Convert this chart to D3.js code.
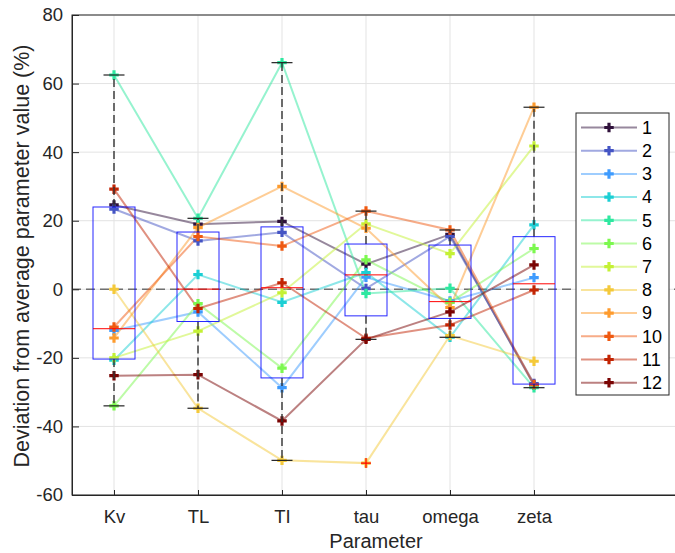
<!DOCTYPE html>
<html>
<head>
<meta charset="utf-8">
<script src="https://cdn.jsdelivr.net/npm/d3@7"></script>
<style>
    body { margin: 0; background: #fff; }
    svg { display: block; font-family: "Liberation Sans", Arial, sans-serif; }
</style>
</head>
<body>
<svg id="chart" width="675" height="553"></svg>
<script>
// parameters on the x axis, one value per run (runs 1..12)
const params = ["Kv", "TL", "TI", "tau", "omega", "zeta"];
const runs = ["1", "2", "3", "4", "5", "6", "7", "8", "9", "10", "11", "12"];

const kv    = [24.6, 23.4, -12.0, -20.7, 62.5, -34.0, -20.0, 0.0, -14.2, -11.0, 29.2, -25.2];
const tl    = [19.0, 14.1, -6.6, 4.3, 20.7, -4.2, -12.2, -34.7, 18.0, 15.4, -5.6, -24.9];
const ti    = [19.8, 16.6, -28.7, -3.8, 66.1, -23.0, -1.0, -49.9, 30.0, 12.6, 1.9, -38.4];
const tau   = [7.3, 0.2, 3.5, 4.9, -1.2, 8.6, 19.1, -50.7, 17.8, 22.8, -14.3, -14.6];
const omega = [16.0, 15.4, -3.4, -14.0, 0.3, -3.8, 10.4, -13.5, -5.3, 17.3, -10.4, -6.6];
const zeta  = [-28.0, -27.5, 3.4, 18.8, -28.7, 11.9, 41.8, -21.0, 53.1, -27.8, -0.2, 7.1];

const yTicks = [-60, -40, -20, 0, 20, 40, 60, 80];

// turbo-like palette, one per run
const runColors = ["#30123b", "#4454c4", "#3e9bfe", "#1bcfd4", "#2ee8a0", "#7cf84f",
    "#c4f134", "#f4c93a", "#fe9b2d", "#ef5911", "#c22403", "#7a0403"];

class DeviationBox {

    constructor(parentElement) {
        this.parentElement = parentElement;
    }

    initVis() {
        let vis = this;

        vis.margin = {top: 15, right: 0, bottom: 58, left: 72};
        vis.width = 608;
        vis.height = 480;

        vis.svg = d3.select("#" + vis.parentElement).append("g")
            .attr("transform", `translate(${vis.margin.left}, ${vis.margin.top})`);

        // Scales and axes
        vis.x = d3.scaleLinear()
            .domain([0.5, 0.5 + vis.width / 84])
            .range([0, vis.width]);
        vis.y = d3.scaleLinear()
            .domain([-60, 80])
            .range([vis.height, 0]);

        vis.xAxis = d3.axisBottom(vis.x)
            .tickValues(d3.range(1, params.length + 1))
            .tickFormat(d => params[d - 1])
            .tickSize(-5)
            .tickPadding(15);
        vis.yAxis = d3.axisLeft(vis.y)
            .tickValues(yTicks)
            .tickFormat(d => String(d))
            .tickSize(-7)
            .tickPadding(9);

        vis.wrangleData();
    }

    // MATLAB style percentile
    prctile(sorted, p) {
        let n = sorted.length;
        let pos = n * p + 0.5;
        if (pos <= 1) return sorted[0];
        if (pos >= n) return sorted[n - 1];
        let lo = Math.floor(pos);
        let f = pos - lo;
        return sorted[lo - 1] + f * (sorted[lo] - sorted[lo - 1]);
    }

    wrangleData() {
        let vis = this;

        let columns = [kv, tl, ti, tau, omega, zeta];

        vis.series = runs.map((r, i) => ({
            run: r,
            color: runColors[i],
            values: columns.map((col, j) => ({pos: j + 1, value: col[i]}))
        }));

        vis.stats = columns.map((col, j) => {
            let s = col.slice().sort(d3.ascending);
            let q1 = vis.prctile(s, 0.25);
            let med = vis.prctile(s, 0.5);
            let q3 = vis.prctile(s, 0.75);
            let iqr = q3 - q1;
            let inside = s.filter(v => v >= q1 - 1.5 * iqr && v <= q3 + 1.5 * iqr);
            return {
                pos: j + 1, q1: q1, med: med, q3: q3,
                lo: d3.min(inside), hi: d3.max(inside),
                outliers: s.filter(v => v < q1 - 1.5 * iqr || v > q3 + 1.5 * iqr)
            };
        });

        vis.updateVis();
    }

    updateVis() {
        let vis = this;

        // Grid
        vis.svg.append("g").selectAll("line.gy")
            .data(yTicks)
            .enter().append("line")
            .attr("x1", 0).attr("x2", vis.width)
            .attr("y1", d => vis.y(d)).attr("y2", d => vis.y(d))
            .attr("stroke", "#e3e3e3");
        vis.svg.append("g").selectAll("line.gx")
            .data(d3.range(1, params.length + 1))
            .enter().append("line")
            .attr("x1", d => vis.x(d)).attr("x2", d => vis.x(d))
            .attr("y1", 0).attr("y2", vis.height)
            .attr("stroke", "#e3e3e3");

        // zero reference
        vis.svg.append("line")
            .attr("x1", 0).attr("x2", vis.width)
            .attr("y1", vis.y(0)).attr("y2", vis.y(0))
            .attr("stroke", "#707070")
            .attr("stroke-width", 1.5)
            .attr("stroke-dasharray", "9,5");

        // Series lines
        let line = d3.line()
            .x(d => vis.x(d.pos))
            .y(d => vis.y(d.value));

        vis.svg.append("g").selectAll("path")
            .data(vis.series)
            .enter().append("path")
            .attr("fill", "none")
            .attr("stroke", d => d.color)
            .attr("stroke-opacity", 0.5)
            .attr("stroke-width", 2)
            .attr("d", d => line(d.values));

        let cross = d3.symbol().type(d3.symbolCross).size(50);

        vis.svg.append("g").selectAll("g")
            .data(vis.series)
            .enter().append("g")
            .attr("fill", d => d.color)
            .selectAll("path")
            .data(d => d.values)
            .enter().append("path")
            .attr("transform", d => `translate(${vis.x(d.pos)},${vis.y(d.value)})`)
            .attr("d", cross);

        // Box plot
        let bw = vis.x(1.25) - vis.x(1);
        let cw = vis.x(1.125) - vis.x(1);
        let box = vis.svg.append("g").selectAll("g")
            .data(vis.stats)
            .enter().append("g");

        box.append("line")
            .attr("x1", d => vis.x(d.pos)).attr("x2", d => vis.x(d.pos))
            .attr("y1", d => vis.y(d.q3)).attr("y2", d => vis.y(d.hi))
            .attr("stroke", "#333").attr("stroke-width", 1.4).attr("stroke-dasharray", "8,4");
        box.append("line")
            .attr("x1", d => vis.x(d.pos)).attr("x2", d => vis.x(d.pos))
            .attr("y1", d => vis.y(d.q1)).attr("y2", d => vis.y(d.lo))
            .attr("stroke", "#333").attr("stroke-width", 1.4).attr("stroke-dasharray", "8,4");
        box.append("line")
            .attr("x1", d => vis.x(d.pos) - cw).attr("x2", d => vis.x(d.pos) + cw)
            .attr("y1", d => vis.y(d.hi)).attr("y2", d => vis.y(d.hi))
            .attr("stroke", "#222").attr("stroke-width", 1.2);
        box.append("line")
            .attr("x1", d => vis.x(d.pos) - cw).attr("x2", d => vis.x(d.pos) + cw)
            .attr("y1", d => vis.y(d.lo)).attr("y2", d => vis.y(d.lo))
            .attr("stroke", "#222").attr("stroke-width", 1.2);
        box.append("rect")
            .attr("x", d => vis.x(d.pos) - bw)
            .attr("y", d => vis.y(d.q3))
            .attr("width", 2 * bw)
            .attr("height", d => vis.y(d.q1) - vis.y(d.q3))
            .attr("fill", "none")
            .attr("stroke", "#0000ff")
            .attr("stroke-opacity", 0.85);
        box.append("line")
            .attr("x1", d => vis.x(d.pos) - bw).attr("x2", d => vis.x(d.pos) + bw)
            .attr("y1", d => vis.y(d.med)).attr("y2", d => vis.y(d.med))
            .attr("stroke", "#ff0000");

        // outliers
        box.selectAll("path.out")
            .data(d => d.outliers.map(v => ({pos: d.pos, value: v})))
            .enter().append("path")
            .attr("class", "out")
            .attr("transform", d => `translate(${vis.x(d.pos)},${vis.y(d.value)})`)
            .attr("d", "M-5,0H5M0,-5V5")
            .attr("stroke", "#ff0000")
            .attr("stroke-width", 1.2);

        // Axes
        vis.svg.append("rect")
            .attr("width", vis.width)
            .attr("height", vis.height)
            .attr("fill", "none")
            .attr("stroke", "#262626");

        let gx = vis.svg.append("g")
            .attr("transform", "translate(0," + vis.height + ")")
            .call(vis.xAxis);
        let gy = vis.svg.append("g")
            .call(vis.yAxis);
        [gx, gy].forEach(g => {
            g.select(".domain").attr("stroke", "#262626");
            g.selectAll(".tick line").attr("stroke", "#262626");
            g.selectAll("text")
                .attr("fill", "#262626")
                .attr("font-size", "18.5px")
                .attr("font-family", "Liberation Sans, Arial, sans-serif");
        });

        // Labels
        vis.svg.append("text")
            .text("Parameter")
            .attr("x", vis.width / 2)
            .attr("y", vis.height + 53)
            .attr("text-anchor", "middle")
            .attr("fill", "#262626")
            .attr("font-size", "20px");
        vis.svg.append("text")
            .text("Deviation from average parameter value (%)")
            .attr("transform", `translate(${-43},${vis.height / 2 + 1}) rotate(-90)`)
            .attr("text-anchor", "middle")
            .attr("fill", "#262626")
            .attr("font-size", "21.5px");

        // Legend
        let legend = vis.svg.append("g")
            .attr("transform", `translate(${504},${98})`);
        legend.append("rect")
            .attr("width", 93)
            .attr("height", 282)
            .attr("fill", "#fff")
            .attr("stroke", "#262626");
        let item = legend.selectAll("g")
            .data(vis.series)
            .enter().append("g")
            .attr("transform", (d, i) => `translate(0,${14.5 + i * 23.2})`);
        item.append("line")
            .attr("x1", 5).attr("x2", 61)
            .attr("stroke", d => d.color)
            .attr("stroke-opacity", 0.5)
            .attr("stroke-width", 2);
        item.append("path")
            .attr("transform", "translate(33,0)")
            .attr("fill", d => d.color)
            .attr("d", cross);
        item.append("text")
            .text(d => d.run)
            .attr("x", 66)
            .attr("dy", "0.35em")
            .attr("fill", "#000")
            .attr("font-size", "18px");
    }
}

let chart = new DeviationBox("chart");
chart.initVis();
</script>
</body>
</html>
